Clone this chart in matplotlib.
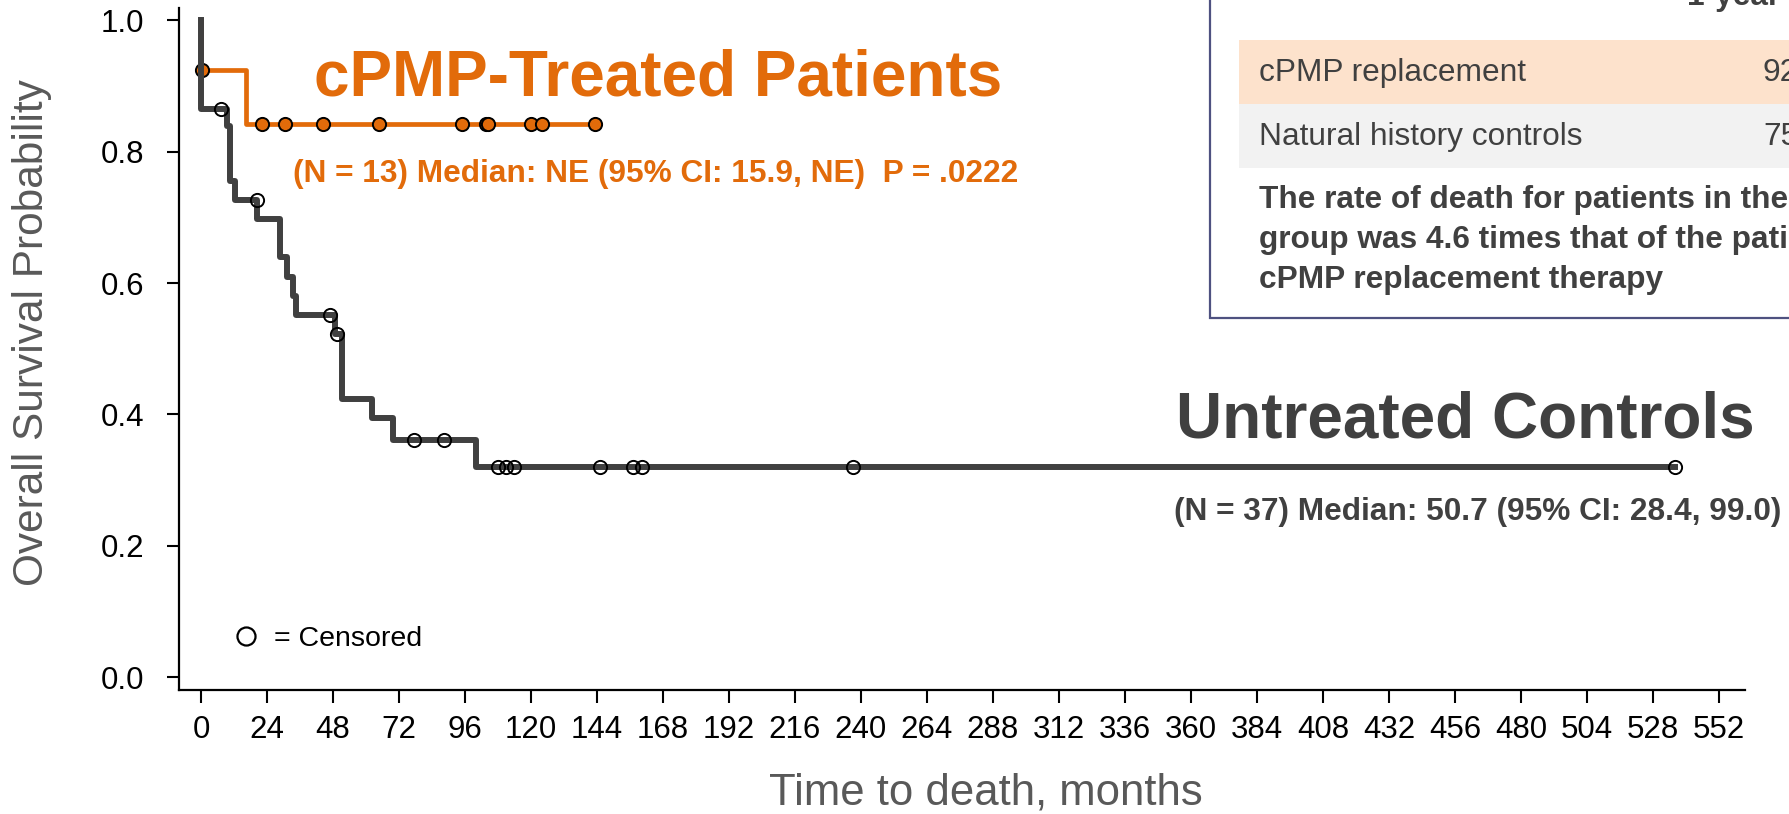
import matplotlib
matplotlib.use("Agg")
import matplotlib.pyplot as plt
from matplotlib.lines import Line2D
from matplotlib.patches import Rectangle

plt.rcParams['font.family'] = ['Liberation Sans', 'DejaVu Sans']

ORANGE = '#E26B0A'
DARK = '#404040'
W, H = 1790, 814

# natural history controls: step times (months) and survival after each step
ctrl_t = [0, 0, 9.3, 10.5, 12.4, 20.5, 28.7, 31.1, 33.6, 34.4, 48.7, 51.1, 62.1, 70.0, 100.0, 536]
ctrl_s = [1.0, 0.865, 0.839, 0.756, 0.727, 0.698, 0.640, 0.610, 0.581, 0.551, 0.522,
          0.424, 0.394, 0.361, 0.320, 0.320]
ctrl_cens = [7.3, 20.4, 46.9, 49.6, 77.6, 88.3, 108, 111, 114, 145, 157, 160.5, 237, 536]

# cPMP treated patients
trt_t = [0, 0, 16.4, 143.3]
trt_s = [1.0, 0.925, 0.843, 0.843]
trt_cens = [0.5, 22.1, 30.5, 44.2, 64.7, 95.0, 103.6, 104.2, 120.0, 124.1, 143.3]

xticks = list(range(0, 553, 24))
yticks = [0.0, 0.2, 0.4, 0.6, 0.8, 1.0]

table_rows = ['cPMP replacement', 'Natural history controls']
table_vals = ['92.3%', '75.6%']
table_note = ['The rate of death for patients in the natural history',
              'group was 4.6 times that of the patients receiving',
              'cPMP replacement therapy']


def surv_at(t, times, levels):
    s = levels[0]
    for ti, si in zip(times, levels):
        if ti <= t:
            s = si
    return s


def fx(px):
    return px / W


def fy(py):
    return 1 - py / H


fig = plt.figure(figsize=(W / 100, H / 100), dpi=100)
ax = fig.add_axes([fx(179), fy(689.5), 1566 / W, 681.5 / H])

ax.plot(trt_t, trt_s, drawstyle='steps-post', color=ORANGE, lw=3.4, zorder=2)
ax.plot(trt_cens, [surv_at(t, trt_t, trt_s) for t in trt_cens], 'o', ms=9.5,
        mfc=ORANGE, mec='black', mew=1.4, zorder=3)
ax.plot(ctrl_t, ctrl_s, drawstyle='steps-post', color=DARK, lw=4.3, zorder=4)
ax.plot(ctrl_cens, [surv_at(t, ctrl_t, ctrl_s) for t in ctrl_cens], 'o', ms=9.5,
        mfc='none', mec='black', mew=1.4, zorder=5)

ax.set_xlim(-8, 561.5)
ax.set_ylim(-0.019, 1.019)
ax.set_xticks(xticks)
ax.set_yticks(yticks)
ax.set_yticklabels(['%.1f' % v for v in yticks])
for sp in ['top', 'right']:
    ax.spines[sp].set_visible(False)
for sp in ['left', 'bottom']:
    ax.spines[sp].set_linewidth(1.6)
ax.tick_params(axis='both', direction='out', length=9, width=1.5, labelsize=22.5)
ax.tick_params(axis='x', pad=9)
ax.tick_params(axis='y', pad=16)

handle = Line2D([], [], marker='o', ls='none', ms=13, mfc='white', mec='black', mew=1.6)
ax.legend([handle], ['= Censored'], loc='lower left', bbox_to_anchor=(0.034, 0.055),
          frameon=False, borderpad=0, borderaxespad=0, handlelength=1.0,
          handletextpad=0.47, fontsize=20.5)

fig.text(fx(32), fy(333), 'Overall Survival Probability', rotation=90, ha='center',
         va='center', fontsize=30.5, color='#595959')
fig.text(fx(986), fy(805), 'Time to death, months', ha='center', va='baseline',
         fontsize=31.5, color='#595959')

fig.text(fx(314), fy(95), 'cPMP-Treated Patients', fontsize=46, fontweight='bold',
         color=ORANGE, va='baseline')
fig.text(fx(293), fy(182), '(N = 13) Median: NE (95% CI: 15.9, NE)  P = .0222',
         fontsize=22.8, fontweight='bold', color=ORANGE, va='baseline')
fig.text(fx(1176), fy(437), 'Untreated Controls', fontsize=46, fontweight='bold',
         color=DARK, va='baseline')
fig.text(fx(1174), fy(520), '(N = 37) Median: 50.7 (95% CI: 28.4, 99.0)',
         fontsize=22.8, fontweight='bold', color=DARK, va='baseline')

# summary table box (runs off the right/top edge)
fig.add_artist(Rectangle((fx(1210), fy(318)), 0.4, 0.6, transform=fig.transFigure,
                         facecolor='white', edgecolor='#4E5180', lw=1.6, zorder=6))
row_colors = ['#FDE2CC', '#F2F2F2']
for i, (name, val) in enumerate(zip(table_rows, table_vals)):
    top = 40 + 64 * i
    fig.add_artist(Rectangle((fx(1239), fy(top + 64)), 0.5, 64 / H, transform=fig.transFigure,
                             facecolor=row_colors[i], edgecolor='none', zorder=7))
    fig.text(fx(1259), fy(top + 41), name, fontsize=22.8, color=DARK, va='baseline', zorder=8)
    fig.text(fx(1763), fy(top + 41), val, fontsize=22.8, color=DARK, va='baseline', zorder=8)
fig.text(fx(1687), fy(5), '1-year overall survival', fontsize=22.8, fontweight='bold',
         color=DARK, va='baseline', zorder=8)
for i, line in enumerate(table_note):
    fig.text(fx(1259), fy(208 + 40 * i), line, fontsize=22.8, fontweight='bold',
             color=DARK, va='baseline', zorder=8)

fig.savefig('out.png', dpi=100)
